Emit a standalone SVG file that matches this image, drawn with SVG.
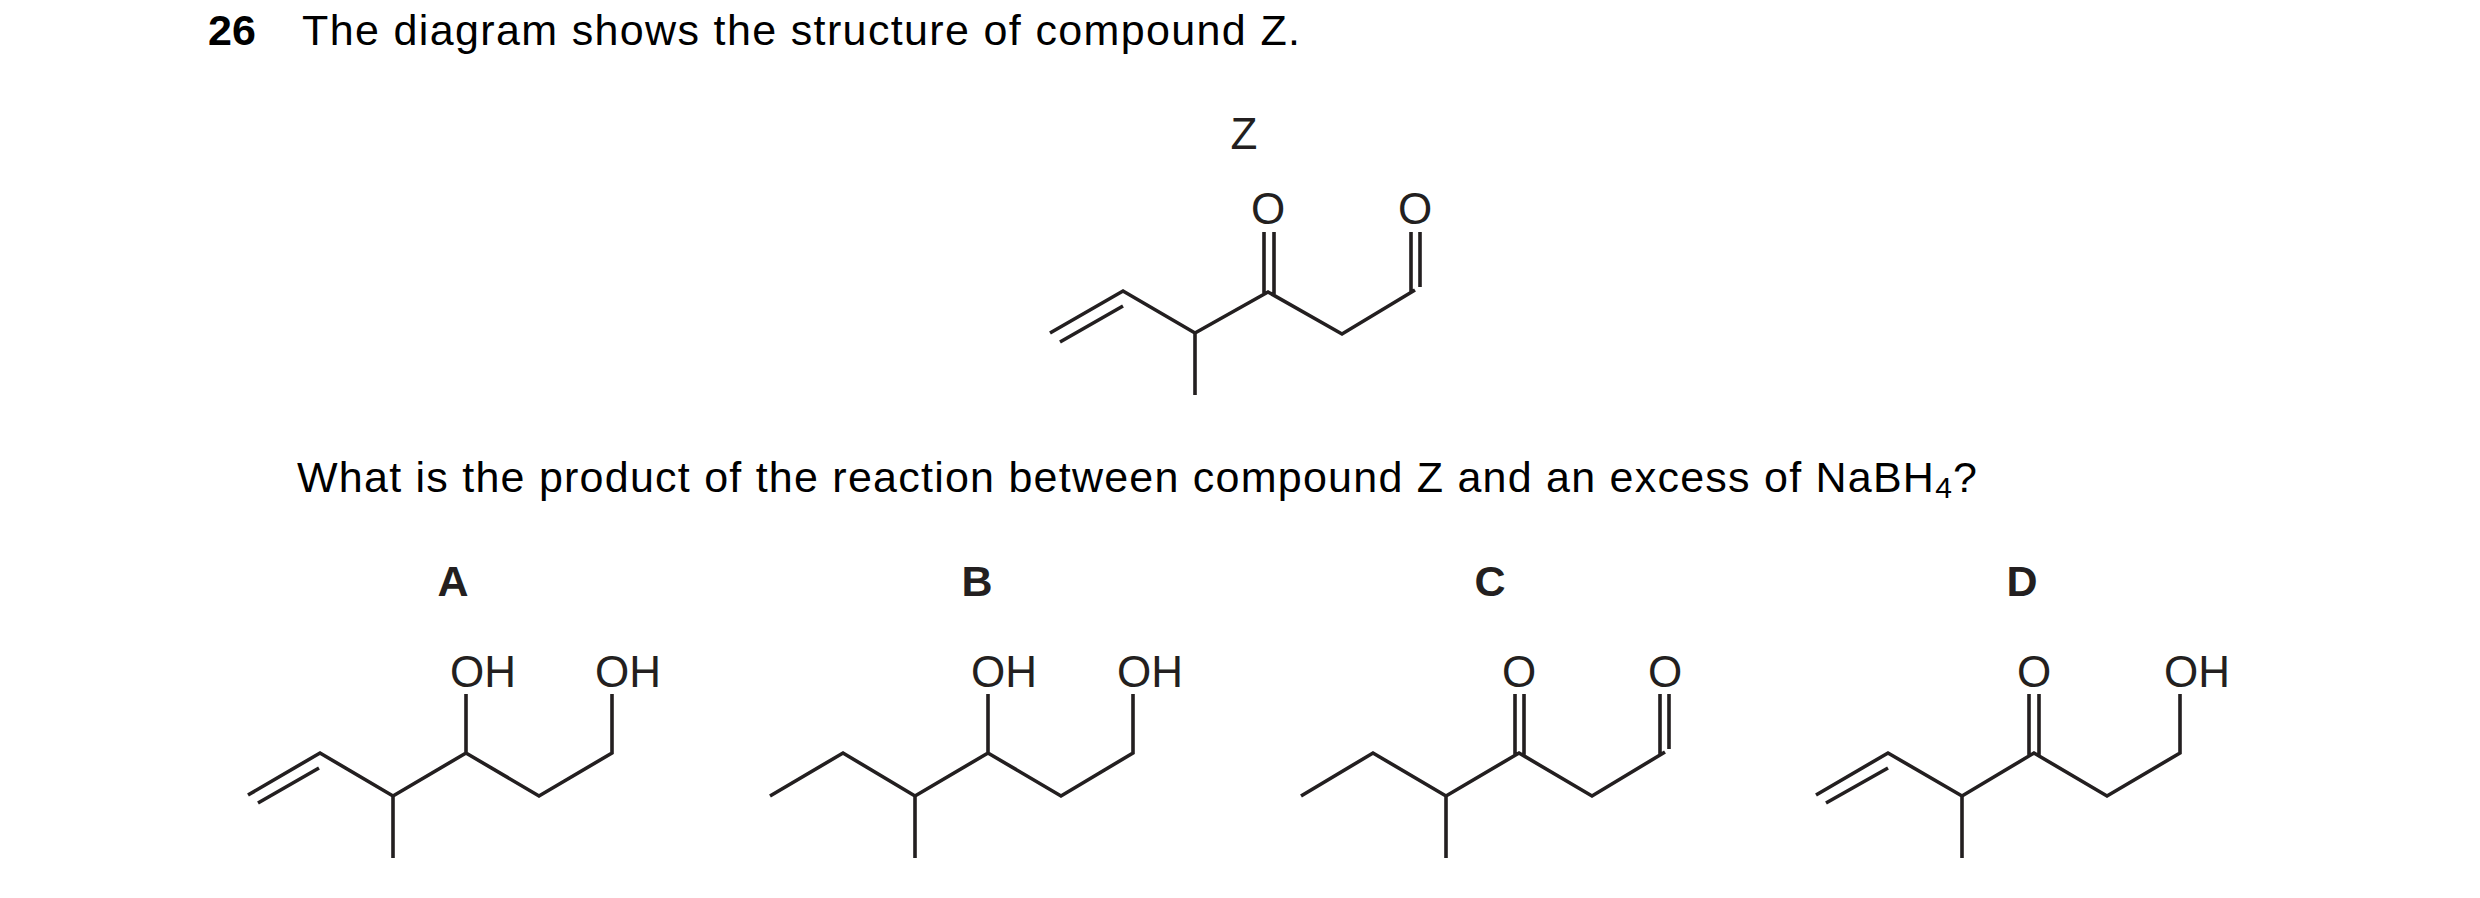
<svg xmlns="http://www.w3.org/2000/svg" width="2480" height="898" viewBox="0 0 2480 898">
<style>
.b{fill:none;stroke:#231f20;stroke-width:3.6;stroke-linecap:butt;stroke-linejoin:miter}
.t{font-family:"Liberation Sans",Arial,sans-serif;font-size:43px;fill:#000}
.a{font-family:"Liberation Sans",Arial,sans-serif;font-size:44px;fill:#231f20}
.l{font-family:"Liberation Sans",Arial,sans-serif;font-size:43px;font-weight:bold;fill:#231f20;text-anchor:middle}
</style>
<rect width="2480" height="898" fill="#fff"/>
<text class="t" x="208" y="45" font-weight="bold">26</text>
<text class="t" x="302" y="45" textLength="998" lengthAdjust="spacing">The diagram shows the structure of compound Z.</text>
<text class="t" x="297" y="492" textLength="1680" lengthAdjust="spacing">What is the product of the reaction between compound Z and an excess of NaBH<tspan font-size="30" dy="6">4</tspan><tspan dy="-6">?</tspan></text>
<g id="Z">
<text class="a" x="1244" y="149" text-anchor="middle">Z</text>
<path class="b" d="M1050,333 L1123,291 L1195,333 L1268,292 L1342,334 L1415,290 M1060,342 L1123,306 M1195,333 V395 M1264,294 V232 M1274,296 V232 M1411,292 V232 M1420,287 V232"/>
<text class="a" x="1268" y="224" text-anchor="middle">O</text>
<text class="a" x="1415" y="224" text-anchor="middle">O</text>
</g>
<g id="A">
<text class="l" x="453" y="596">A</text>
<path class="b" d="M248,795 L320,753 L393,796 L466,753 L539,796 L612,753 V694 M258,803 L319,768 M393,796 V858 M466,753 V694"/>
<text class="a" x="483" y="687" text-anchor="middle">OH</text>
<text class="a" x="628" y="687" text-anchor="middle">OH</text>
</g>
<g id="B">
<text class="l" x="977" y="596">B</text>
<path class="b" d="M770,796 L843,753 L915,796 L988,753 L1061,796 L1133,753 V694 M915,796 V858 M988,753 V694"/>
<text class="a" x="1004" y="687" text-anchor="middle">OH</text>
<text class="a" x="1150" y="687" text-anchor="middle">OH</text>
</g>
<g id="C">
<text class="l" x="1490" y="596">C</text>
<path class="b" d="M1301,796 L1373,753 L1446,796 L1519,753 L1592,796 L1665,752 M1446,796 V858 M1515,756 V694 M1524,756 V694 M1660,754 V694 M1669,749 V694"/>
<text class="a" x="1519" y="687" text-anchor="middle">O</text>
<text class="a" x="1665" y="687" text-anchor="middle">O</text>
</g>
<g id="D">
<text class="l" x="2022" y="596">D</text>
<path class="b" d="M1816,795 L1888,753 L1962,796 L2034,753 L2107,796 L2180,753 V694 M1826,803 L1888,768 M1962,796 V858 M2029,756 V694 M2039,756 V694"/>
<text class="a" x="2034" y="687" text-anchor="middle">O</text>
<text class="a" x="2197" y="687" text-anchor="middle">OH</text>
</g>
<g id="connectors"/>
</svg>
